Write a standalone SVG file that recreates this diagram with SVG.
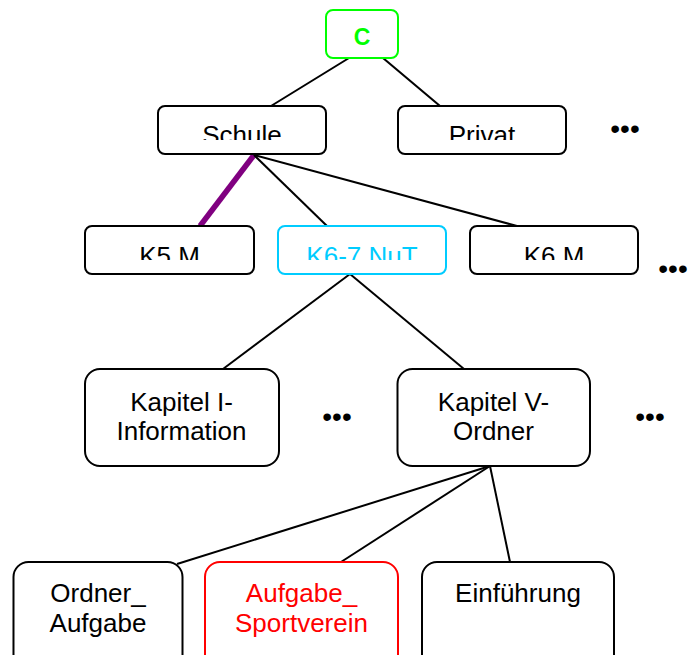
<svg xmlns="http://www.w3.org/2000/svg" width="697" height="655" viewBox="0 0 697 655">
<defs>
<clipPath id="clipRow2"><rect x="0" y="0" width="697" height="140"/></clipPath>
<clipPath id="clipRow3"><rect x="0" y="0" width="697" height="260"/></clipPath>
</defs>
<style>
text{font-family:"Liberation Sans",Arial,sans-serif;font-size:26px;text-anchor:middle;fill:#000}
.box{fill:#fff;stroke:#000;stroke-width:2}
.edge{stroke:#000;stroke-width:2;fill:none}
.dots{font-size:28px}
</style>
<rect width="697" height="655" fill="#fff"/>
<g id="connectors">
<line class="edge" x1="349" y1="58" x2="271" y2="106"/>
<line class="edge" x1="383" y1="58" x2="440" y2="106"/>
<line x1="254" y1="155" x2="200" y2="226" stroke="#800080" stroke-width="5.5"/>
<line class="edge" x1="254" y1="155" x2="327" y2="226"/>
<line class="edge" x1="254" y1="155" x2="517" y2="226"/>
<line class="edge" x1="350" y1="274" x2="223" y2="369"/>
<line class="edge" x1="350" y1="274" x2="464" y2="369"/>
<line class="edge" x1="490" y1="466" x2="177" y2="564"/>
<line class="edge" x1="490" y1="466" x2="341" y2="562"/>
<line class="edge" x1="490" y1="466" x2="510" y2="562"/>
</g>
<g id="node-c">
<rect x="326" y="10" width="72" height="48" rx="7" fill="#fff" stroke="#00ff00" stroke-width="2"/>
<text x="362" y="45" style="font-weight:bold;font-size:23px;fill:#00ff00">C</text>
</g>
<g id="node-schule">
<rect class="box" x="158" y="106" width="168" height="48" rx="7"/>
<text x="242" y="144" clip-path="url(#clipRow2)">Schule</text>
</g>
<g id="node-privat">
<rect class="box" x="398" y="106" width="168" height="48" rx="7"/>
<text x="482" y="144" clip-path="url(#clipRow2)">Privat</text>
</g>
<g id="dots-row2"><text class="dots" x="625" y="138">•••</text></g>
<g id="node-k5m">
<rect class="box" x="85" y="226" width="169" height="48" rx="7"/>
<text x="169.5" y="264.5" clip-path="url(#clipRow3)">K5 M</text>
</g>
<g id="node-k67nut">
<rect x="278" y="226" width="168" height="48" rx="7" fill="#fff" stroke="#00ccff" stroke-width="2"/>
<text x="362" y="264.5" clip-path="url(#clipRow3)" style="fill:#00ccff">K6-7 NuT</text>
</g>
<g id="node-k6m">
<rect class="box" x="470" y="226" width="168" height="48" rx="7"/>
<text x="554" y="264.5" clip-path="url(#clipRow3)">K6 M</text>
</g>
<g id="dots-row3"><text class="dots" x="673" y="278">•••</text></g>
<g id="node-kap1">
<rect class="box" x="85" y="369" width="194" height="97" rx="15"/>
<text x="181.5" y="410.5">Kapitel I-</text>
<text x="181.5" y="440">Information</text>
</g>
<g id="dots-row4a"><text class="dots" x="337" y="426">•••</text></g>
<g id="node-kap5">
<rect class="box" x="397.5" y="369" width="192.5" height="97" rx="15"/>
<text x="493.5" y="410.5">Kapitel V-</text>
<text x="493.5" y="440">Ordner</text>
</g>
<g id="dots-row4b"><text class="dots" x="650" y="426">•••</text></g>
<g id="node-ordner-aufgabe">
<rect class="box" x="13.5" y="562" width="169" height="110" rx="15"/>
<text x="98" y="602">Ordner_</text>
<text x="98" y="631.5">Aufgabe</text>
</g>
<g id="node-aufgabe-sportverein">
<rect x="205" y="562" width="193" height="110" rx="15" fill="#fff" stroke="#ff0000" stroke-width="2"/>
<text x="301.5" y="602" style="fill:#ff0000">Aufgabe_</text>
<text x="301.5" y="631.5" style="fill:#ff0000">Sportverein</text>
</g>
<g id="node-einfuehrung">
<rect class="box" x="422" y="562" width="192" height="110" rx="15"/>
<text x="518" y="602">Einführung</text>
</g>
</svg>
